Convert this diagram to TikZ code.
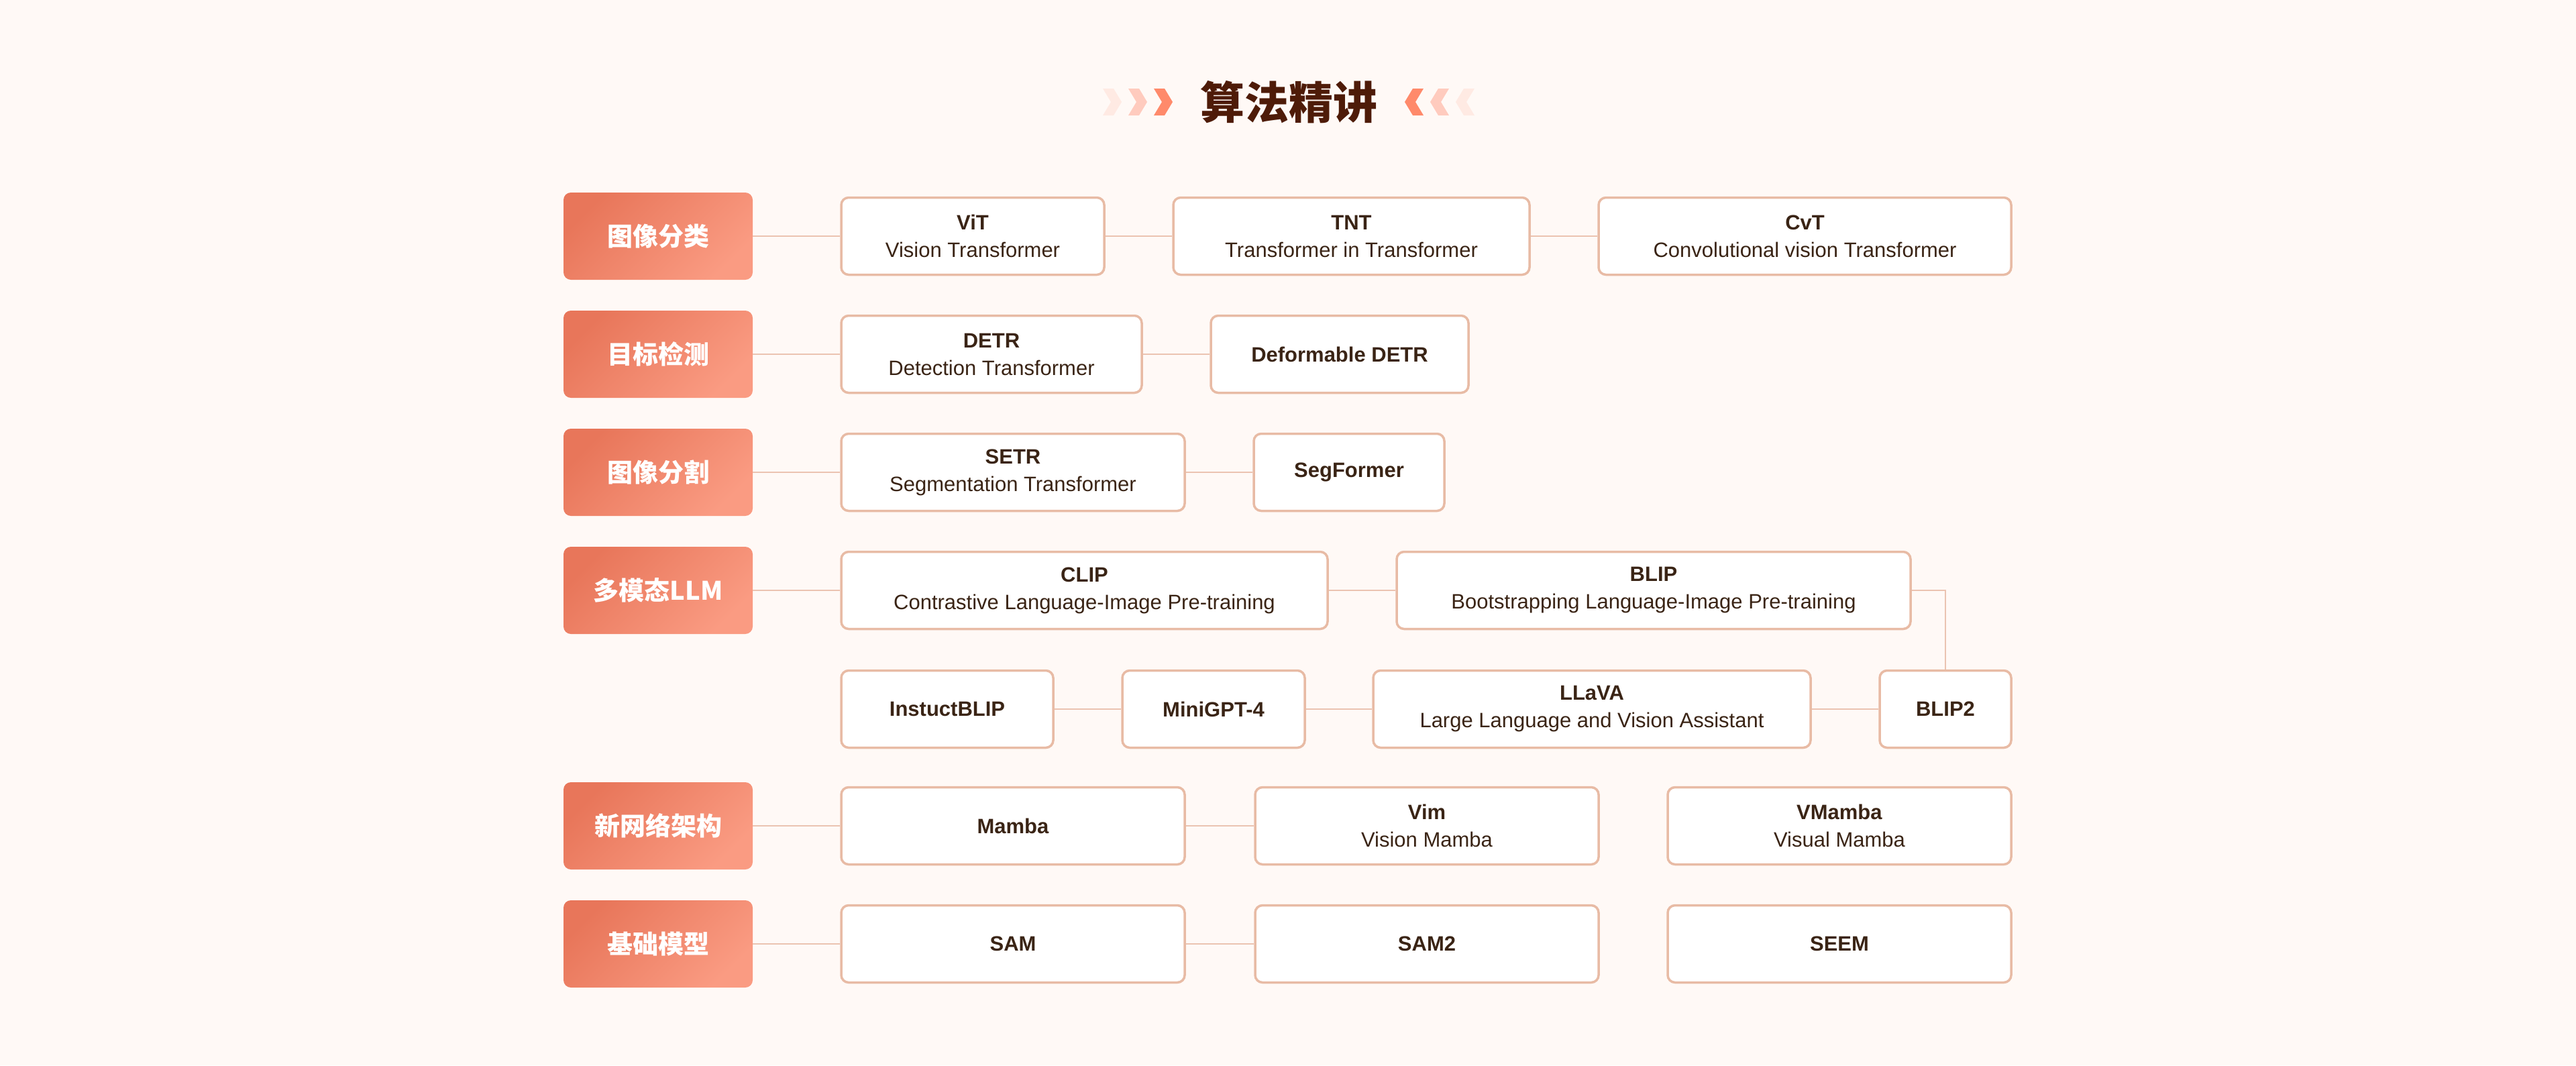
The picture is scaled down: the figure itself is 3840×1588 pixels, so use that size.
\documentclass[tikz,border=0pt]{standalone}
\usepackage{fontspec}
\setmainfont{Liberation Sans}
\newfontfamily\cjk{Noto Sans CJK SC}
\definecolor{bgc}{HTML}{FFF9F6}
\definecolor{catA}{HTML}{E8765A}
\definecolor{catB}{HTML}{FA9B82}
\definecolor{boxline}{HTML}{E8BBA5}
\definecolor{linec}{HTML}{EBC3B1}
\definecolor{textc}{HTML}{3A2415}
\definecolor{titlec}{HTML}{4E1B08}
\definecolor{chA}{HTML}{FF8A6B}
\definecolor{chB}{HTML}{FFCBBE}
\definecolor{chC}{HTML}{FFEAE3}
\newcommand\chevRight[2]{\fill[#2] (#1,132) -- ++(16,0) -- ++(12,20) -- ++(-12,20) -- ++(-16,0) -- ++(12,-20) -- cycle;}
\newcommand\chevLeft[2]{\fill[#2] (#1,132) -- ++(-16,0) -- ++(-12,20) -- ++(12,20) -- ++(16,0) -- ++(-12,-20) -- cycle;}
\tikzset{
  catbox/.style={rounded corners=11, top color=catA, bottom color=catB, shading angle=45,
    minimum width=282, minimum height=130, inner sep=0, text=white,
    font=\cjk\bfseries\fontsize{38}{44}\selectfont},
  itembox/.style={draw=boxline, line width=3.5, fill=white, rounded corners=11,
    minimum height=115, inner sep=0, align=center, text=textc,
    font=\fontsize{31}{41}\selectfont},
  link/.style={draw=linec, line width=2.2},
}
\newcommand\bt[1]{\textbf{#1}}
\begin{document}
\begin{tikzpicture}[x=1pt,y=-1pt]
\useasboundingbox (0,0) rectangle (3840,1588);
\fill[bgc] (0,0) rectangle (3840,1588);
% title
\chevRight{1644}{chC}
\chevRight{1682}{chB}
\chevRight{1720}{chA}
\chevLeft{2198}{chC}
\chevLeft{2160}{chB}
\chevLeft{2122}{chA}
\node[text=titlec, font=\cjk\bfseries\fontsize{66}{70}\selectfont, inner sep=0] (title) at (1921,152) {算法精讲};
% categories
\node[catbox] (c1) at (981,352) {图像分类};
\node[catbox] (c2) at (981,528) {目标检测};
\node[catbox] (c3) at (981,704) {图像分割};
\node[catbox] (c4) at (981,880) {多模态LLM};
\node[catbox] (c5) at (981,1231) {新网络架构};
\node[catbox] (c6) at (981,1407) {基础模型};
% row 1
\node[itembox, minimum width=392] (vit) at (1450,352) {\bt{ViT}\\Vision Transformer};
\node[itembox, minimum width=531] (tnt) at (2014.5,352) {\bt{TNT}\\Transformer in Transformer};
\node[itembox, minimum width=615] (cvt) at (2690.5,352) {\bt{CvT}\\Convolutional vision Transformer};
% row 2
\node[itembox, minimum width=448] (detr) at (1478,528) {\bt{DETR}\\Detection Transformer};
\node[itembox, minimum width=384] (ddetr) at (1997,528) {\bt{Deformable DETR}};
% row 3
\node[itembox, minimum width=512] (setr) at (1510,704) {\bt{SETR}\\Segmentation Transformer};
\node[itembox, minimum width=284] (segf) at (2011,704) {\bt{SegFormer}};
% row 4
\node[itembox, minimum width=725] (clip) at (1616.5,880) {\bt{CLIP}\\Contrastive Language-Image Pre-training};
\node[itembox, minimum width=766] (blip) at (2465,880) {\bt{BLIP}\\Bootstrapping Language-Image Pre-training};
% row 4b
\node[itembox, minimum width=316] (iblip) at (1412,1057) {\bt{InstuctBLIP}};
\node[itembox, minimum width=272] (mgpt) at (1809,1057) {\bt{MiniGPT-4}};
\node[itembox, minimum width=652] (llava) at (2373,1057) {\bt{LLaVA}\\Large Language and Vision Assistant};
\node[itembox, minimum width=196] (blip2) at (2900,1057) {\bt{BLIP2}};
% row 5
\node[itembox, minimum width=512] (mamba) at (1510,1231) {\bt{Mamba}};
\node[itembox, minimum width=512] (vim) at (2127,1231) {\bt{Vim}\\Vision Mamba};
\node[itembox, minimum width=512] (vmamba) at (2742,1231) {\bt{VMamba}\\Visual Mamba};
% row 6
\node[itembox, minimum width=512] (sam) at (1510,1407) {\bt{SAM}};
\node[itembox, minimum width=512] (sam2) at (2127,1407) {\bt{SAM2}};
\node[itembox, minimum width=512] (seem) at (2742,1407) {\bt{SEEM}};
% links
\draw[link] (c1.east) -- (vit.west);
\draw[link] (vit.east) -- (tnt.west);
\draw[link] (tnt.east) -- (cvt.west);
\draw[link] (c2.east) -- (detr.west);
\draw[link] (detr.east) -- (ddetr.west);
\draw[link] (c3.east) -- (setr.west);
\draw[link] (setr.east) -- (segf.west);
\draw[link] (c4.east) -- (clip.west);
\draw[link] (clip.east) -- (blip.west);
\draw[link] (blip.east) -| (blip2.north);
\draw[link] (iblip.east) -- (mgpt.west);
\draw[link] (mgpt.east) -- (llava.west);
\draw[link] (llava.east) -- (blip2.west);
\draw[link] (c5.east) -- (mamba.west);
\draw[link] (mamba.east) -- (vim.west);
\draw[link] (c6.east) -- (sam.west);
\draw[link] (sam.east) -- (sam2.west);
\end{tikzpicture}
\end{document}
